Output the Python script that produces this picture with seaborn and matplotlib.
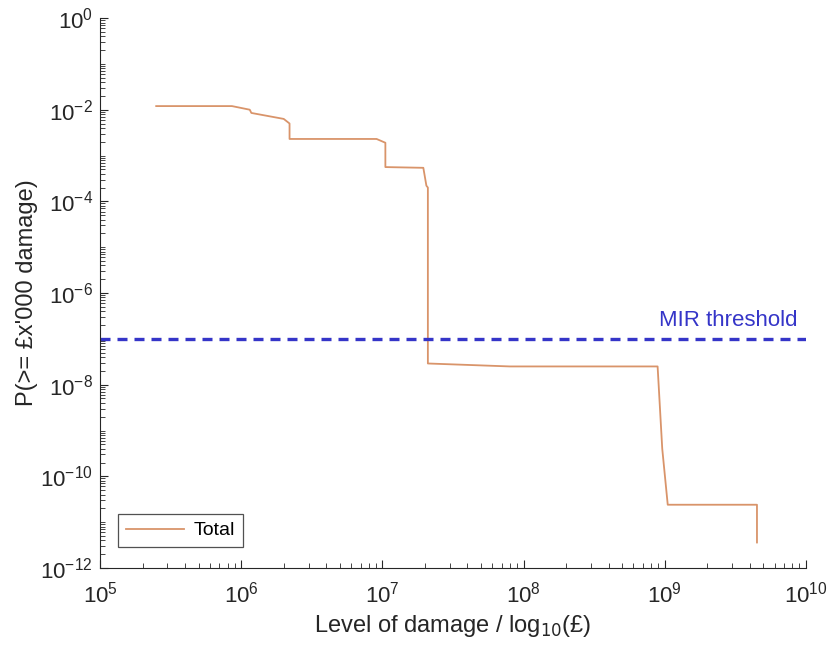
import numpy as np
import pandas as pd
import seaborn as sns
import matplotlib
matplotlib.use("Agg")
import matplotlib.pyplot as plt
from matplotlib.ticker import LogLocator, NullFormatter

# exceedance curve vertices (damage in £, probability)
damage = [2.5e5, 8.6e5, 1.15e6, 1.18e6, 2.0e6, 2.2e6, 2.2e6, 9.1e6, 1.05e7, 1.05e7,
          1.95e7, 2.05e7, 2.1e7, 2.1e7, 8.0e7, 8.9e8, 9.6e8, 1.05e9, 4.5e9, 4.5e9]
prob = [1.2e-2, 1.2e-2, 1.0e-2, 8.5e-3, 6.3e-3, 5.0e-3, 2.3e-3, 2.3e-3, 1.9e-3, 5.6e-4,
        5.4e-4, 2.2e-4, 2.0e-4, 2.9e-8, 2.5e-8, 2.5e-8, 4.0e-10, 2.4e-11, 2.4e-11, 3.6e-12]
series_name = "Total"

mir_threshold = 1e-7

df = pd.DataFrame({"damage": damage, "prob": prob, "series": series_name})

plt.rcParams['font.family'] = ['Liberation Sans', 'DejaVu Sans']
plt.rcParams['axes.unicode_minus'] = False
fig = plt.figure(figsize=(8.3, 6.45), dpi=100)
ax = fig.add_axes([0.1205, 0.1194, 0.8505, 0.8526])

sns.lineplot(data=df, x="damage", y="prob", hue="series", palette=["#D9946A"],
             estimator=None, sort=False, linewidth=1.3, ax=ax)
ax.axhline(mir_threshold, color="#3535C8", linestyle=(0, (3, 2.1)), linewidth=2.4)
ax.text(8.7e9, mir_threshold * 1.5, "MIR threshold", color="#3535C8",
        fontsize=16, ha="right", va="bottom")

ax.set_xscale("log")
ax.set_yscale("log")
ax.set_xlim(1e5, 1e10)
ax.set_ylim(1e-12, 1e0)
ax.set_xticks([1e5, 1e6, 1e7, 1e8, 1e9, 1e10])
ax.set_yticks([1e0, 1e-2, 1e-4, 1e-6, 1e-8, 1e-10, 1e-12])
ax.xaxis.set_minor_locator(LogLocator(base=10, subs=np.arange(2, 10), numticks=100))
ax.yaxis.set_minor_locator(LogLocator(base=10, subs=np.arange(1, 10), numticks=100))
ax.xaxis.set_minor_formatter(NullFormatter())
ax.yaxis.set_minor_formatter(NullFormatter())
ax.tick_params(which="both", direction="in", labelsize=16, colors="#262626")
ax.tick_params(which="major", length=6)
ax.tick_params(which="minor", length=3.5)
ax.tick_params(axis="x", which="major", pad=10)
ax.tick_params(axis="y", which="major", pad=5)

for s in ["top", "right"]:
    ax.spines[s].set_visible(False)
for s in ["left", "bottom"]:
    ax.spines[s].set_color("#262626")

ax.set_xlabel("Level of damage / log$_{10}$(£)", fontsize=17, color="#262626", labelpad=4)
ax.set_ylabel("P(>= £x'000 damage)", fontsize=17, color="#262626", labelpad=2)

leg = ax.legend(loc="lower left", bbox_to_anchor=(0.0255, 0.038), borderaxespad=0,
                fontsize=14, frameon=True, fancybox=False, edgecolor="#262626",
                handlelength=3.0, borderpad=0.4, handletextpad=0.5)
leg.get_frame().set_linewidth(0.9)

fig.savefig("out.png", dpi=100, facecolor="white")
